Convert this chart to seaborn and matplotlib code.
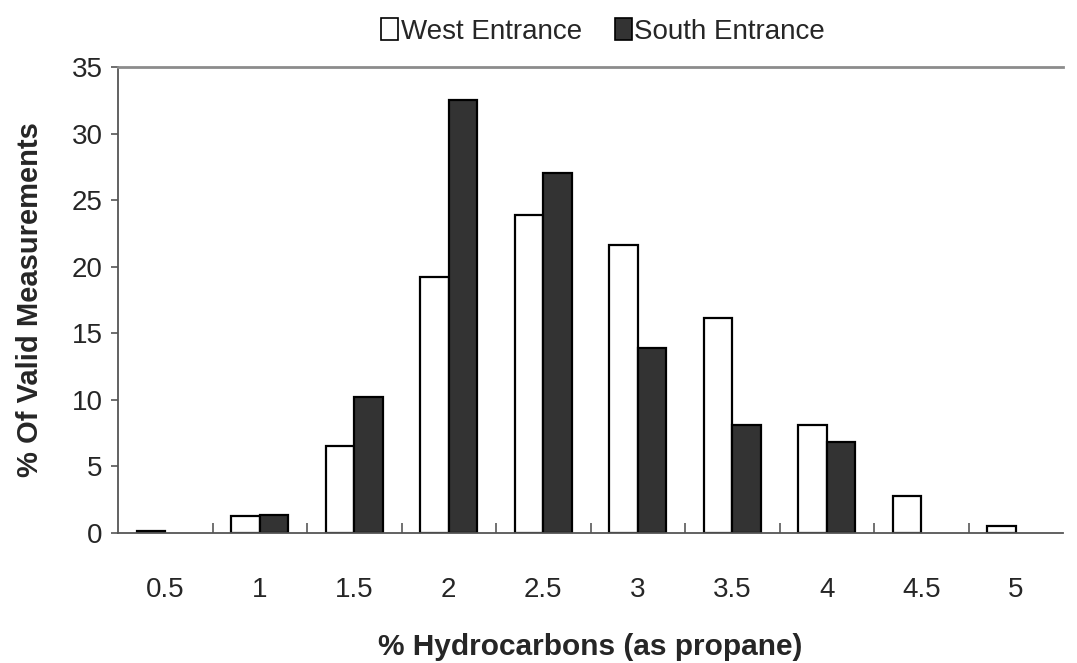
import pandas as pd
import numpy as np
import matplotlib
matplotlib.use("Agg")
import matplotlib.pyplot as plt
import seaborn as sns

# values
hydrocarbons = ["0.5", "1", "1.5", "2", "2.5", "3", "3.5", "4", "4.5", "5"]
west = [0.15, 1.25, 6.55, 19.2, 23.85, 21.6, 16.15, 8.1, 2.8, 0.55]
south = [None, 1.35, 10.25, 32.55, 27.0, 13.9, 8.15, 6.85, None, None]
sites = ["West Entrance", "South Entrance"]

df = pd.DataFrame({
    "hc": hydrocarbons * 2,
    "pct": west + south,
    "site": [sites[0]] * len(west) + [sites[1]] * len(south),
}).dropna()

sns.set_style("white")
plt.rcParams["font.family"] = ["Liberation Sans", "DejaVu Sans"]

fig = plt.figure(figsize=(10.77, 6.63), dpi=100)
ax = fig.add_axes([0.1096, 0.196, 0.8774, 0.703])

sns.barplot(data=df, x="hc", y="pct", hue="site", order=hydrocarbons,
            hue_order=sites, palette={sites[0]: "white", sites[1]: "#333333"},
            edgecolor="black", linewidth=1.6, width=0.6, gap=0, ax=ax)

ax.set_ylim(0, 35)
ax.set_xlim(-0.5, len(hydrocarbons) - 0.5)
ax.set_yticks(np.arange(0, 36, 5))

ax.spines["right"].set_visible(False)
ax.spines["top"].set_color("#8c8c8c")
ax.spines["top"].set_linewidth(2)
for side in ["left", "bottom"]:
    ax.spines[side].set_color("#555555")
    ax.spines[side].set_linewidth(1.3)

ax.tick_params(axis="y", direction="out", length=5, width=1.2, color="#555555",
               labelsize=20, pad=6, left=True)
ax.tick_params(axis="x", which="major", length=0, labelsize=20, pad=32)
ax.set_xticks(np.arange(0.5, len(hydrocarbons) - 1, 1), minor=True)
ax.tick_params(axis="x", which="minor", direction="in", length=7, width=1.3,
               color="#666666", bottom=True)

ax.set_xlabel("% Hydrocarbons (as propane)", fontsize=21.5, fontweight="bold", labelpad=21)
ax.set_ylabel("% Of Valid Measurements", fontsize=21, fontweight="bold", labelpad=20)

ax.legend_.remove()
handles = [plt.Rectangle((0, 0), 1, 1, facecolor="white", edgecolor="black", linewidth=1.2),
           plt.Rectangle((0, 0), 1, 1, facecolor="#333333", edgecolor="black", linewidth=1.2)]
fig.legend(handles, sites, loc="center", bbox_to_anchor=(0.56, 0.953), ncol=2,
           frameon=False, fontsize=20, handlelength=0.6, handleheight=0.85,
           handletextpad=0.1, columnspacing=1.2)

fig.savefig("out.png", dpi=100)
